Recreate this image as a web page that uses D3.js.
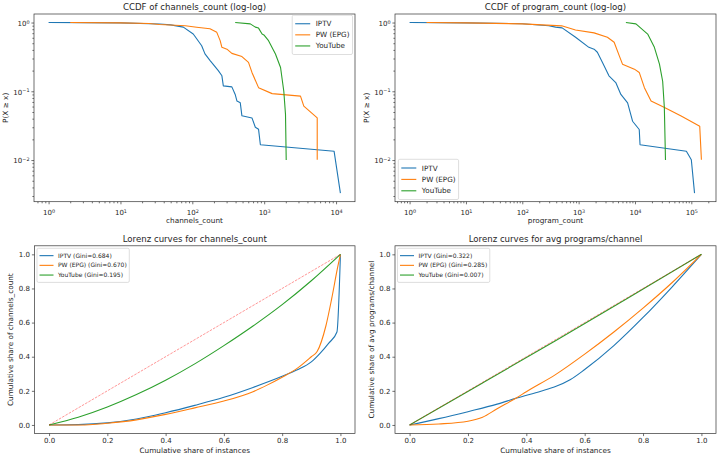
<!DOCTYPE html>
<html lang="en">
<head>
<meta charset="utf-8">
<title>CCDF and Lorenz curves</title>
<script src="https://d3js.org/d3.v7.min.js"></script>
<style>
  body { margin: 0; background: #fff; }
  svg text { font-family: "DejaVu Sans", sans-serif; }
</style>
</head>
<body>
<div id="chart"></div>
<script>
var W = 719, H = 457;

var seriesNames = ["IPTV", "PW (EPG)", "YouTube"];
var colors = ["#1f77b4", "#ff7f0e", "#2ca02c"];

// CCDF of channels_count
var chIptvX = [1, 3, 10, 35, 50, 75, 103, 115, 135, 150, 177, 230, 258, 270, 355, 395, 418, 465, 490, 676, 753, 835, 885, 9400, 11500];
var chIptvP = [1, 0.997, 0.99, 0.95, 0.925, 0.857, 0.68, 0.58, 0.46, 0.35, 0.28, 0.2, 0.168, 0.12, 0.116, 0.09, 0.072, 0.068, 0.044, 0.041, 0.03, 0.028, 0.0167, 0.0134, 0.0033];
var chPwX = [2, 10, 25, 35, 80, 115, 176, 219, 244, 258, 303, 355, 490, 605, 676, 835, 1290, 3200, 3560, 5470, 5470];
var chPwP = [1, 0.99, 0.97, 0.935, 0.9, 0.855, 0.81, 0.72, 0.546, 0.436, 0.41, 0.356, 0.32, 0.263, 0.188, 0.113, 0.0925, 0.085, 0.061, 0.041, 0.0101];
var chYtX = [395, 641, 753, 835, 935, 990, 1150, 1435, 1690, 1875, 1980, 2025];
var chYtP = [1, 0.957, 0.857, 0.83, 0.68, 0.66, 0.545, 0.348, 0.222, 0.1, 0.046, 0.01];

// CCDF of program_count
var prIptvX = [1, 10, 100, 295, 390, 510, 883, 1520, 1880, 2150, 2650, 3450, 4560, 5620, 7400, 9060, 11900, 12300, 81700, 100000, 114000];
var prIptvP = [1, 0.99, 0.96, 0.9, 0.857, 0.836, 0.61, 0.436, 0.41, 0.37, 0.263, 0.168, 0.134, 0.09, 0.068, 0.0367, 0.0278, 0.0167, 0.0134, 0.0101, 0.0033];
var prPwX = [2, 10, 100, 500, 880, 1880, 3240, 4270, 5250, 6000, 9770, 11900, 14700, 19300, 33400, 66000, 141000, 151000];
var prPwP = [1, 0.99, 0.957, 0.895, 0.78, 0.707, 0.61, 0.516, 0.33, 0.248, 0.21, 0.188, 0.113, 0.072, 0.058, 0.0436, 0.031, 0.0101];
var prYtX = [6900, 10400, 16800, 22100, 27200, 31000, 33200, 34800];
var prYtP = [1, 0.957, 0.68, 0.436, 0.248, 0.14, 0.058, 0.01];

// Lorenz curves for channels_count
var lcIptvX = [0, 0.1, 0.2, 0.3, 0.4, 0.5, 0.6, 0.7, 0.8, 0.85, 0.9, 0.93, 0.96, 0.988, 1];
var lcIptvY = [0, 0.002, 0.012, 0.035, 0.072, 0.115, 0.162, 0.22, 0.285, 0.322, 0.37, 0.42, 0.48, 0.545, 1];
var lcPwX = [0, 0.1, 0.15, 0.2, 0.3, 0.4, 0.5, 0.6, 0.7, 0.75, 0.8, 0.85, 0.9, 0.92, 0.95, 0.97, 0.99, 1];
var lcPwY = [0, 0, 0.003, 0.01, 0.03, 0.062, 0.1, 0.14, 0.195, 0.235, 0.28, 0.33, 0.4, 0.43, 0.58, 0.74, 0.92, 1];
var lcYtX = [0, 0.1, 0.2, 0.3, 0.4, 0.5, 0.6, 0.7, 0.8, 0.9, 1];
var lcYtY = [0, 0.045, 0.105, 0.178, 0.262, 0.358, 0.465, 0.58, 0.705, 0.845, 1];
var giniChannels = ["0.684", "0.670", "0.195"];

// Lorenz curves for avg programs/channel
var laIptvX = [0, 0.1, 0.2, 0.3, 0.367, 0.45, 0.5, 0.55, 0.6, 0.7, 0.8, 0.9, 1];
var laIptvY = [0, 0.037, 0.078, 0.122, 0.158, 0.198, 0.225, 0.265, 0.325, 0.465, 0.63, 0.81, 1];
var laPwX = [0, 0.1, 0.2, 0.25, 0.3, 0.367, 0.4, 0.5, 0.6, 0.7, 0.8, 0.9, 1];
var laPwY = [0, 0.006, 0.022, 0.045, 0.095, 0.16, 0.195, 0.295, 0.415, 0.545, 0.685, 0.835, 1];
var laYtX = [0, 0.25, 0.5, 0.75, 1];
var laYtY = [0, 0.246, 0.494, 0.746, 1];
var giniAvg = ["0.322", "0.285", "0.007"];

var shareTicks = [0, 0.2, 0.4, 0.6, 0.8, 1.0];

var svg = d3.select("#chart").append("svg")
  .attr("width", W).attr("height", H);

var textColor = "#262626";

function zipSeries(xs, ys) {
  return xs.map(function (x, i) { return [x, ys[i]]; });
}

function styleAxis(g, fs) {
  g.attr("font-size", fs).attr("font-family", "DejaVu Sans, sans-serif");
  g.select(".domain").remove();
  g.selectAll(".tick line").attr("stroke", "#333").attr("stroke-width", 0.7);
  g.selectAll(".tick text").attr("fill", textColor);
}

function logTicks(dom) {
  var lo = Math.log10(dom[0]), hi = Math.log10(dom[1]);
  var major = [], minor = [];
  for (var k = Math.floor(lo); k <= Math.ceil(hi); k++) {
    var v = Math.pow(10, k);
    if (v >= dom[0] && v <= dom[1]) major.push(k);
    for (var m = 2; m < 10; m++) {
      var mv = m * v;
      if (mv >= dom[0] && mv <= dom[1]) minor.push(mv);
    }
  }
  return {major: major, minor: minor};
}

function powLabel(sel, k) {
  sel.append("tspan").text("10");
  sel.append("tspan").attr("dy", "-0.45em").attr("font-size", "0.7em")
    .text(k < 0 ? "\u2212" + (-k) : String(k));
}

function padLog(lo, hi) {
  var a = Math.log10(lo), b = Math.log10(hi), m = (b - a) * 0.05;
  return [Math.pow(10, a - m), Math.pow(10, b + m)];
}

function frame(g, w, h) {
  g.append("rect").attr("width", w).attr("height", h)
    .attr("fill", "none").attr("stroke", "#333").attr("stroke-width", 0.7);
}

function drawTitle(g, w, text) {
  g.append("text").attr("x", w / 2).attr("y", -4).attr("text-anchor", "middle")
    .attr("font-size", 8.6).attr("fill", textColor).text(text);
}

function drawLegend(g, items, opts) {
  var lg = g.append("g").attr("transform", "translate(" + opts.x + "," + opts.y + ")");
  var box = lg.append("rect").attr("fill", "#fff").attr("fill-opacity", 0.8)
    .attr("stroke", "#d0d0d0").attr("stroke-width", 0.7).attr("rx", 1.5);
  var maxW = 0;
  items.forEach(function (it, i) {
    var cy = opts.pad + opts.row * (i + 0.5);
    lg.append("line").attr("x1", opts.pad).attr("x2", opts.pad + opts.handle)
      .attr("y1", cy).attr("y2", cy).attr("stroke", it.color).attr("stroke-width", 1.1);
    var t = lg.append("text").attr("x", opts.pad + opts.handle + opts.gap).attr("y", cy)
      .attr("dy", "0.35em").attr("font-size", opts.fs).attr("fill", textColor).text(it.label);
    maxW = Math.max(maxW, t.node().getComputedTextLength());
  });
  var bw = opts.pad * 2 + opts.handle + opts.gap + maxW;
  var bh = opts.pad * 2 + opts.row * items.length;
  box.attr("width", bw).attr("height", bh);
  if (opts.anchorRight) lg.attr("transform", "translate(" + (opts.x - bw) + "," + opts.y + ")");
  if (opts.anchorBottom) lg.attr("transform", "translate(" + opts.x + "," + (opts.y - bh) + ")");
}

function ccdfPanel(p) {
  var g = svg.append("g").attr("transform", "translate(" + p.left + "," + p.top + ")");
  var allX = [], allP = [];
  p.series.forEach(function (s) { allX = allX.concat(s.x); allP = allP.concat(s.p); });
  var xDom = padLog(d3.min(allX), d3.max(allX));
  var yDom = padLog(d3.min(allP), d3.max(allP));
  var x = d3.scaleLog().domain(xDom).range([0, p.w]);
  var y = d3.scaleLog().domain(yDom).range([p.h, 0]);

  var xt = logTicks(xDom), yt = logTicks(yDom);

  var gxm = g.append("g").attr("transform", "translate(0," + p.h + ")")
    .call(d3.axisBottom(x).tickValues(xt.minor).tickSize(1.6).tickFormat(""));
  styleAxis(gxm, 7);
  var gx = g.append("g").attr("transform", "translate(0," + p.h + ")")
    .call(d3.axisBottom(x).tickValues(xt.major.map(function (k) { return Math.pow(10, k); }))
      .tickSize(2.6).tickFormat(""));
  styleAxis(gx, 7);
  gx.selectAll(".tick").each(function (d) {
    var t = d3.select(this).append("text").attr("y", 13.2).attr("text-anchor", "middle")
      .attr("fill", textColor).attr("font-size", 7);
    powLabel(t, Math.round(Math.log10(d)));
  });

  var gym = g.append("g").call(d3.axisLeft(y).tickValues(yt.minor).tickSize(1.6).tickFormat(""));
  styleAxis(gym, 7);
  var gy = g.append("g").call(d3.axisLeft(y).tickValues(yt.major.map(function (k) { return Math.pow(10, k); }))
    .tickSize(2.6).tickFormat(""));
  styleAxis(gy, 7);
  gy.selectAll(".tick").each(function (d) {
    var t = d3.select(this).append("text").attr("x", -4.5).attr("y", 2.8).attr("text-anchor", "end")
      .attr("fill", textColor).attr("font-size", 7);
    powLabel(t, Math.round(Math.log10(d)));
  });

  var line = d3.line().x(function (d) { return x(d[0]); }).y(function (d) { return y(d[1]); });
  p.series.forEach(function (s, i) {
    g.append("path").datum(zipSeries(s.x, s.p)).attr("d", line)
      .attr("fill", "none").attr("stroke", colors[i]).attr("stroke-width", 1.1)
      .attr("stroke-linejoin", "round");
  });

  frame(g, p.w, p.h);
  drawTitle(g, p.w, p.title);
  g.append("text").attr("x", p.w / 2).attr("y", p.h + 21).attr("text-anchor", "middle")
    .attr("font-size", 7.3).attr("fill", textColor).text(p.xLabel);
  g.append("text").attr("transform", "translate(" + p.yLabelX + "," + p.h / 2 + ") rotate(-90)")
    .attr("text-anchor", "middle").attr("dy", "0.35em")
    .attr("font-size", 7.3).attr("fill", textColor).text(p.yLabel);

  var items = seriesNames.map(function (n, i) { return {label: n, color: colors[i]}; });
  drawLegend(g, items, p.legend);
}

function lorenzPanel(p) {
  var g = svg.append("g").attr("transform", "translate(" + p.left + "," + p.top + ")");
  var x = d3.scaleLinear().domain([-0.05, 1.05]).range([0, p.w]);
  var y = d3.scaleLinear().domain([-0.05, 1.05]).range([p.h, 0]);
  var fmt = d3.format(".1f");

  var gx = g.append("g").attr("transform", "translate(0," + p.h + ")")
    .call(d3.axisBottom(x).tickValues(shareTicks).tickFormat(fmt).tickSize(2.6).tickPadding(2));
  styleAxis(gx, 7);
  var gy = g.append("g")
    .call(d3.axisLeft(y).tickValues(shareTicks).tickFormat(fmt).tickSize(2.6).tickPadding(2));
  styleAxis(gy, 7);

  var line = d3.line().curve(d3.curveMonotoneX)
    .x(function (d) { return x(d[0]); }).y(function (d) { return y(d[1]); });
  p.series.forEach(function (s, i) {
    g.append("path").datum(zipSeries(s.x, s.y)).attr("d", line)
      .attr("fill", "none").attr("stroke", colors[i]).attr("stroke-width", 1.1);
  });
  g.append("path").datum([[shareTicks[0], shareTicks[0]], [shareTicks[5], shareTicks[5]]])
    .attr("d", d3.line().x(function (d) { return x(d[0]); }).y(function (d) { return y(d[1]); }))
    .attr("fill", "none").attr("stroke", "#ff0000").attr("stroke-opacity", 0.55)
    .attr("stroke-width", 0.75).attr("stroke-dasharray", "2.6,1.2");

  frame(g, p.w, p.h);
  drawTitle(g, p.w, p.title);
  g.append("text").attr("x", p.w / 2).attr("y", p.h + 20).attr("text-anchor", "middle")
    .attr("font-size", 7.3).attr("fill", textColor).text("Cumulative share of instances");
  g.append("text").attr("transform", "translate(" + p.yLabelX + "," + p.h / 2 + ") rotate(-90)")
    .attr("text-anchor", "middle").attr("dy", "0.35em")
    .attr("font-size", 7.3).attr("fill", textColor).text(p.yLabel);

  var items = seriesNames.map(function (n, i) {
    return {label: n + " (Gini=" + p.gini[i] + ")", color: colors[i]};
  });
  drawLegend(g, items, {x: 2.5, y: 2.5, pad: 2.5, row: 9.7, handle: 14, gap: 4.5, fs: 6});
}

ccdfPanel({
  left: 34, top: 14, w: 321, h: 187.7,
  title: "CCDF of channels_count (log-log)",
  xLabel: "channels_count", yLabel: "P(X \u2265 x)", yLabelX: -29,
  series: [{x: chIptvX, p: chIptvP}, {x: chPwX, p: chPwP}, {x: chYtX, p: chYtP}],
  legend: {x: 318.5, y: 1.2, pad: 3, row: 11.1, handle: 15, gap: 5.5, fs: 7.2, anchorRight: true}
});
ccdfPanel({
  left: 395, top: 14, w: 321, h: 187.7,
  title: "CCDF of program_count (log-log)",
  xLabel: "program_count", yLabel: "P(X \u2265 x)", yLabelX: -29,
  series: [{x: prIptvX, p: prIptvP}, {x: prPwX, p: prPwP}, {x: prYtX, p: prYtP}],
  legend: {x: 3.3, y: 185.5, pad: 3, row: 11.4, handle: 15, gap: 5.5, fs: 7.2, anchorBottom: true}
});
lorenzPanel({
  left: 34.5, top: 245.8, w: 320.5, h: 187.7,
  title: "Lorenz curves for channels_count",
  yLabel: "Cumulative share of channels_count", yLabelX: -24,
  series: [{x: lcIptvX, y: lcIptvY}, {x: lcPwX, y: lcPwY}, {x: lcYtX, y: lcYtY}],
  gini: giniChannels
});
lorenzPanel({
  left: 395, top: 245.8, w: 321, h: 187.7,
  title: "Lorenz curves for avg programs/channel",
  yLabel: "Cumulative share of avg programs/channel", yLabelX: -23.5,
  series: [{x: laIptvX, y: laIptvY}, {x: laPwX, y: laPwY}, {x: laYtX, y: laYtY}],
  gini: giniAvg
});
</script>
</body>
</html>
